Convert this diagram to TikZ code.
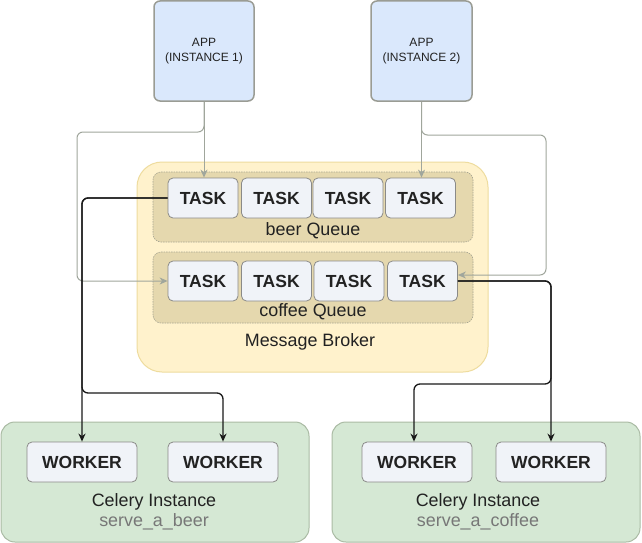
\documentclass[tikz,border=0pt]{standalone}
\usepackage{fontspec}
\setmainfont{Liberation Sans}
\usetikzlibrary{arrows.meta}
\definecolor{appfill}{HTML}{DAE8FC}
\definecolor{appline}{HTML}{9A9C94}
\definecolor{brokfill}{HTML}{FFF2CC}
\definecolor{brokline}{HTML}{EEDC9E}
\definecolor{queuefill}{HTML}{E5D8AE}
\definecolor{queueline}{HTML}{A8A692}
\definecolor{taskfill}{HTML}{F0F3F8}
\definecolor{taskline}{HTML}{8A8A88}
\definecolor{celfill}{HTML}{D5E8D4}
\definecolor{celline}{HTML}{AABBA4}
\definecolor{conngray}{HTML}{A0A69C}
\definecolor{txt}{HTML}{222222}
\definecolor{subtxt}{HTML}{777777}
\tikzset{
  appbox/.style={draw=appline, fill=appfill, line width=1.5pt, rounded corners=6pt,
    minimum width=100pt, minimum height=100pt, inner sep=0pt, align=center,
    font=\fontsize{12}{15}\selectfont, text=txt},
  brokerbox/.style={draw=brokline, fill=brokfill, line width=1pt, rounded corners=25pt,
    minimum width=351pt, minimum height=210pt, inner sep=0pt},
  queuebox/.style={draw=queueline, fill=queuefill, line width=0.6pt, dash pattern=on 1.5pt off 1pt,
    rounded corners=8pt, minimum width=320pt, minimum height=70pt, inner sep=0pt},
  taskbox/.style={draw=taskline, fill=taskfill, line width=0.8pt, rounded corners=5pt,
    minimum width=70pt, minimum height=40pt, inner sep=0pt,
    font=\fontsize{17.5}{20}\selectfont\bfseries, text=txt},
  celbox/.style={draw=celline, fill=celfill, line width=1pt, rounded corners=14pt,
    minimum width=308pt, minimum height=120pt, inner sep=0pt},
  workerbox/.style={draw=taskline, fill=taskfill, line width=0.8pt, rounded corners=5pt,
    minimum width=110pt, minimum height=40pt, inner sep=0pt,
    font=\fontsize{17.5}{20}\selectfont\bfseries, text=txt},
  lbl/.style={inner sep=0pt, font=\fontsize{17.9}{20}\selectfont, text=txt},
  sublbl/.style={inner sep=0pt, font=\fontsize{17.9}{20}\selectfont, text=subtxt},
  gconn/.style={draw=conngray, line width=1pt, rounded corners=6pt,
    -{Stealth[length=8pt,width=7pt,inset=2.5pt]}},
  bconn/.style={draw=black!90, line width=1.3pt, rounded corners=6pt,
    -{Stealth[length=8pt,width=7pt,inset=2.5pt]}},
}
\begin{document}
\begin{tikzpicture}[x=1pt,y=-1pt]
\useasboundingbox (0,0) rectangle (642,543);
\fill[white] (0,0) rectangle (642,543);
% apps
\node[appbox] (app1) at (204,51) {APP\\(INSTANCE 1)};
\node[appbox, minimum width=101pt] (app2) at (421.5,51) {APP\\(INSTANCE 2)};
% broker
\node[brokerbox] (broker) at (312.5,267) {};
\node[queuebox] (bq) at (313,207) {};
\node[queuebox, minimum height=71pt] (cq) at (313,287.5) {};
\node[taskbox] (bt1) at (203,198) {TASK};
\node[taskbox] (bt2) at (276.5,198) {TASK};
\node[taskbox] (bt3) at (348,198) {TASK};
\node[taskbox] (bt4) at (420.5,198) {TASK};
\node[taskbox] (ct1) at (203,281) {TASK};
\node[taskbox] (ct2) at (276.5,281) {TASK};
\node[taskbox] (ct3) at (349,281) {TASK};
\node[taskbox] (ct4) at (422.5,281) {TASK};
\node[lbl] (bql) at (313,231) {beer Queue};
\node[lbl] (cql) at (313,312) {coffee Queue};
\node[lbl] (brl) at (310,342) {Message Broker};
% celery instances
\node[celbox] (cel1) at (155,482) {};
\node[celbox] (cel2) at (486,482) {};
\node[workerbox] (w1) at (82,462) {WORKER};
\node[workerbox] (w2) at (223,462) {WORKER};
\node[workerbox] (w3) at (417,462) {WORKER};
\node[workerbox] (w4) at (551,462) {WORKER};
\node[lbl] (c1l) at (154,502) {Celery Instance};
\node[sublbl] (c1s) at (154,522) {serve\_a\_beer};
\node[lbl] (c2l) at (478,502) {Celery Instance};
\node[sublbl] (c2s) at (478,522) {serve\_a\_coffee};
% gray connectors
\draw[gconn] (app1.south) -- (app1.south |- bt1.north);
\draw[gconn] (app1.south) |- (77,132) |- (ct1.west);
\draw[gconn] (app2.south) -- (app2.south |- bt4.north);
\draw[gconn] (app2.south) |- (546,135) |- ([yshift=6pt]ct4.east);
% black connectors
\draw[bconn] (bt1.west) -| (w1.north);
\draw[bconn] (bt1.west) -| (w1.north |- 0,393) -| (w2.north);
\draw[bconn] (ct4.east) -| (w4.north);
\draw[bconn] (ct4.east) -| (w4.north |- 0,384) -| ([xshift=-3pt]w3.north);
\end{tikzpicture}
\end{document}
